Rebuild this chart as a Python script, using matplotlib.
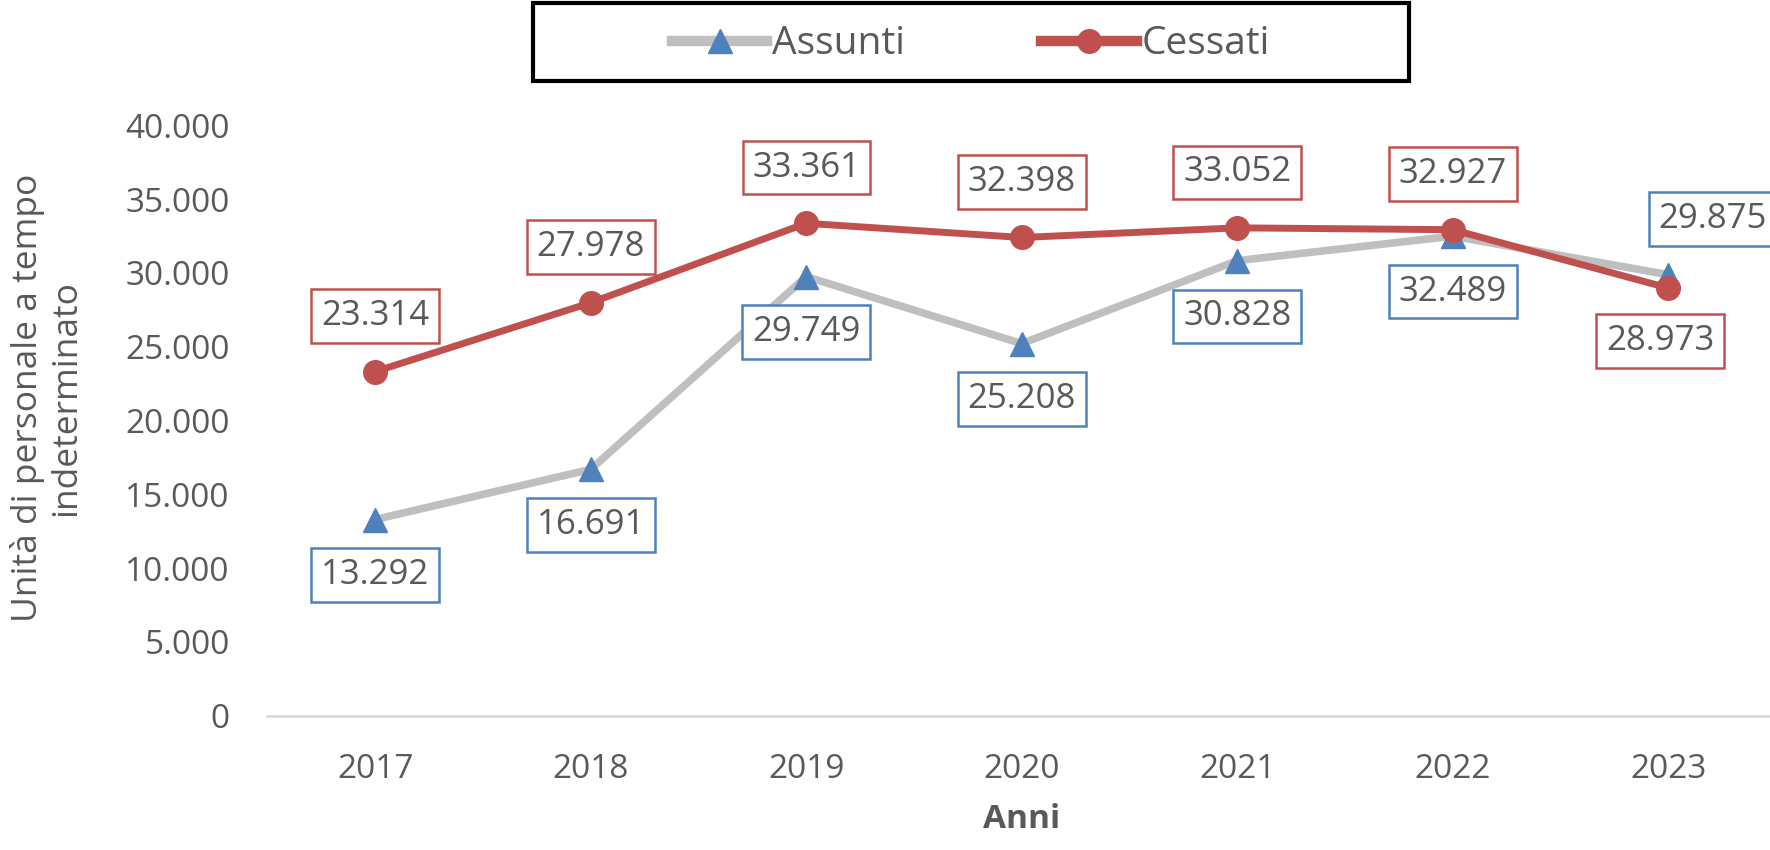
import matplotlib
matplotlib.use("Agg")
import matplotlib.pyplot as plt
from matplotlib.patches import Rectangle
from matplotlib.ticker import FuncFormatter

# data
anni = ["2017", "2018", "2019", "2020", "2021", "2022", "2023"]
assunti = [13292, 16691, 29749, 25208, 30828, 32489, 29875]
cessati = [23314, 27978, 33361, 32398, 33052, 32927, 28973]
y_ticks = [0, 5000, 10000, 15000, 20000, 25000, 30000, 35000, 40000]

TEXT = "#595959"
GRAY = "#BFBFBF"
BLUE = "#4F81BD"
RED = "#C0504D"

plt.rcParams["font.family"] = ["Open Sans", "DejaVu Sans"]


def it_num(v, pos=None):
    return f"{int(v):,}".replace(",", ".")


fig = plt.figure(figsize=(17.7, 8.5), dpi=100)
ax = fig.add_axes([0.1511, 0.158, 0.8523, 0.6946])

x = list(range(len(anni)))
ax.plot(x, assunti, color=GRAY, linewidth=5.5, marker="^", markersize=17,
        markerfacecolor=BLUE, markeredgecolor=BLUE, label="Assunti", zorder=2)
ax.plot(x, cessati, color=RED, linewidth=5, marker="o", markersize=17,
        markerfacecolor=RED, markeredgecolor=RED, label="Cessati", zorder=3)

# --- data labels: Cessati above, Assunti below (flipped on the last year) ---
last = len(anni) - 1
for i in x:
    if i == last:
        off_a, off_c = (32, 40), (-6, -38)
    else:
        off_a, off_c = (0, -40), (0, 40)
    ax.annotate(it_num(assunti[i]), (i, assunti[i]), xytext=off_a,
                textcoords="offset points", ha="center", va="center",
                fontsize=25, color=TEXT, annotation_clip=False,
                bbox=dict(boxstyle="square,pad=0.28", fc="white", ec=BLUE, lw=1.8))
    ax.annotate(it_num(cessati[i]), (i, cessati[i]), xytext=off_c,
                textcoords="offset points", ha="center", va="center",
                fontsize=25, color=TEXT, annotation_clip=False,
                bbox=dict(boxstyle="square,pad=0.28", fc="white", ec=RED, lw=1.8))

ax.set_xlim(-0.5, 6.5)
ax.set_ylim(0, 40000)
ax.set_xticks(x)
ax.set_xticklabels(anni)
ax.set_yticks(y_ticks)
ax.yaxis.set_major_formatter(FuncFormatter(it_num))
ax.tick_params(axis="both", length=0, labelsize=24, labelcolor=TEXT)
ax.tick_params(axis="x", pad=27)
ax.tick_params(axis="y", pad=27)

for side in ["top", "right", "left"]:
    ax.spines[side].set_visible(False)
ax.spines["bottom"].set_color("#D9D9D9")
ax.spines["bottom"].set_linewidth(2)

ax.set_xlabel("Anni", fontsize=24, fontweight="bold", color=TEXT, labelpad=12)
fig.text(0.0262, 0.532, "Unità di personale a tempo\nindeterminato", rotation=90,
         ha="center", va="center", multialignment="center", fontsize=25.5,
         color=TEXT, linespacing=1.15)

# legend with its own black frame
fig.patches.append(Rectangle((0.3011, 0.9047), 0.4949, 0.0918, transform=fig.transFigure,
                             fill=False, edgecolor="black", linewidth=3))
leg = fig.legend(loc="center", bbox_to_anchor=(0.5486, 0.948), ncol=2, frameon=False,
                 fontsize=28, labelcolor=TEXT, handlelength=2.45, handletextpad=0.13,
                 columnspacing=3.5)
for h in leg.legend_handles:
    h.set_linewidth(7.5)

fig.savefig("out.png", dpi=100)
